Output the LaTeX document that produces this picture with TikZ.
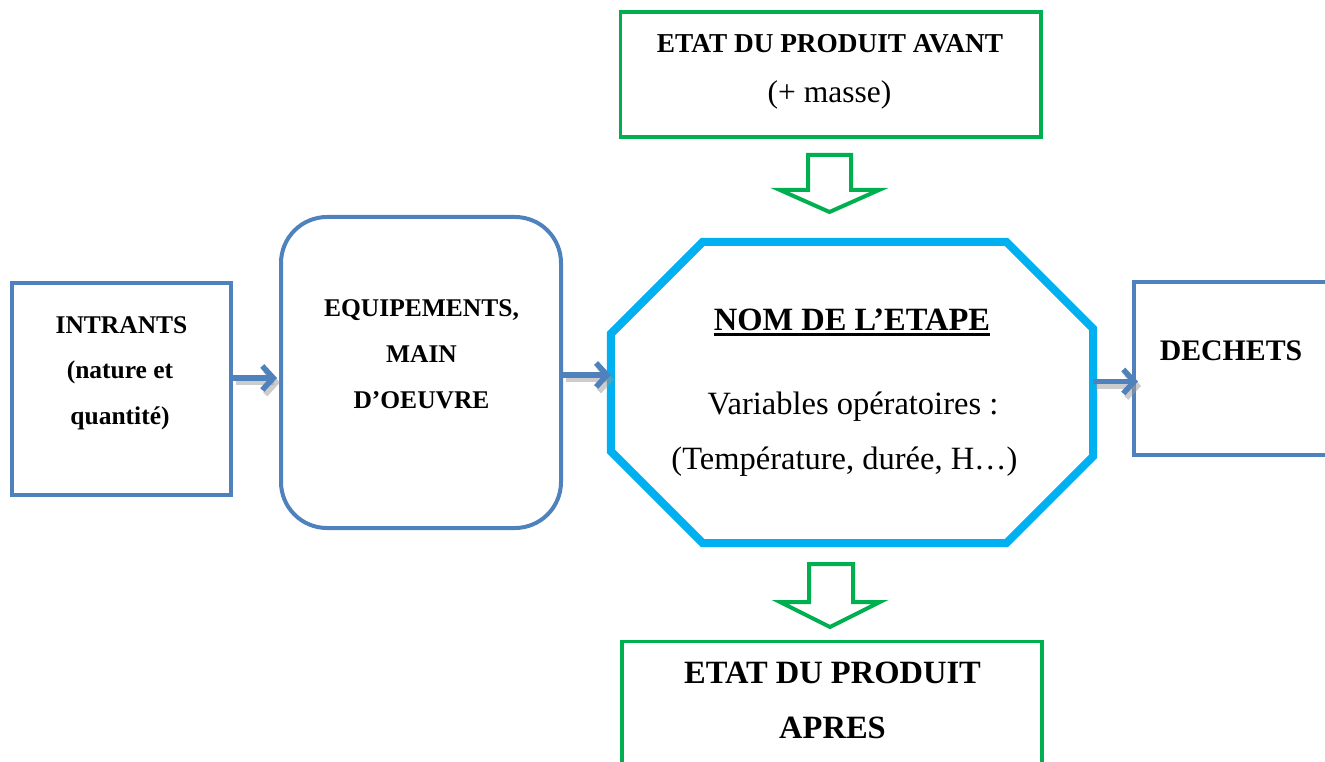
\documentclass[tikz,border=0pt]{standalone}
\usepackage{fontspec}
\setmainfont{Liberation Serif}
\usetikzlibrary{arrows.meta,calc}
\definecolor{boxblue}{HTML}{4F81BD}
\definecolor{stepcyan}{HTML}{00B0F0}
\definecolor{stategreen}{HTML}{00B050}
\tikzset{
  bluebox/.style={draw=boxblue, line width=4pt, inner sep=0pt},
  greenbox/.style={draw=stategreen, line width=3.5pt, inner sep=0pt},
  stepframe/.style={draw=stepcyan, line width=8pt, line join=miter},
  flowhead/.style={-{Straight Barb[length=11pt,width=24pt]}},
  flow/.style={draw=boxblue, line width=5.5pt, flowhead},
  flowshadow/.style={draw=black!40, line width=5.5pt, flowhead, opacity=0.5,
    transform canvas={xshift=3pt,yshift=-4.5pt}},
  hollow/.style={draw=stategreen, line width=4pt, fill=white, line join=miter},
  txt/.style={inner sep=0pt, anchor=base},
  bsmall/.style={txt, font=\bfseries\fontsize{25.5}{30}\selectfont},
  bmid/.style={txt, font=\bfseries\fontsize{27.3}{32}\selectfont},
  blarge/.style={txt, font=\bfseries\fontsize{32.5}{38}\selectfont},
  rlarge/.style={txt, font=\fontsize{32.5}{38}\selectfont}
}
\begin{document}
\begin{tikzpicture}[x=1pt,y=-1pt]
\useasboundingbox (0,0) rectangle (1325,762);
\clip (0,0) rectangle (1325,762);

% boxes
\node[bluebox, minimum width=219pt, minimum height=212pt] (intr) at (121.5,389) {};
\node[bluebox, rounded corners=46pt, minimum width=280pt, minimum height=311pt] (equip) at (421,372.5) {};
\node[bluebox, minimum width=266pt, minimum height=173pt] (dech) at (1267,368.5) {};
\node[greenbox, minimum width=420.5pt, minimum height=125pt] (avant) at (830.75,74.5) {};
\node[greenbox, minimum width=420pt, minimum height=158.5pt] (apres) at (832,720.75) {};

% process step: chamfered frame
\node[inner sep=0pt, minimum width=482pt, minimum height=301pt] (oct) at (852,392.5) {};
\draw[stepframe]
  ($(oct.north west)+(92,0)$) -- ($(oct.north east)+(-87,0)$) --
  ($(oct.north east)+(0,87)$) -- ($(oct.south east)+(0,-87)$) --
  ($(oct.south east)+(-87,0)$) -- ($(oct.south west)+(92,0)$) --
  ($(oct.south west)+(0,-92)$) -- ($(oct.north west)+(0,92)$) -- cycle;

% hollow down arrows
\draw[hollow] (808,155) -- (851,155) -- (851,190) -- (879,190) -- (829.5,212)
  -- (780,190) -- (808,190) -- cycle;
\draw[hollow] (809,564) -- (853,564) -- (853,602) -- (880,602) -- (830,627)
  -- (780,602) -- (809,602) -- cycle;

% connectors
\coordinate (ya) at (0,378);
\coordinate (yb) at (0,375);
\coordinate (yc) at (0,381.5);
\draw[flowshadow] (intr.east |- ya) -- ([xshift=-2pt]equip.west |- ya);
\draw[flow] (intr.east |- ya) -- ([xshift=-2pt]equip.west |- ya);
\draw[flowshadow] (equip.east |- yb) -- (oct.west |- yb);
\draw[flow] (equip.east |- yb) -- (oct.west |- yb);
\draw[flowshadow] (oct.east |- yc) -- ([xshift=6pt]dech.west |- yc);
\draw[flow] (oct.east |- yc) -- ([xshift=6pt]dech.west |- yc);

% texts
\node[bsmall] (t1) at (121.5,333) {INTRANTS};
\node[bsmall] (t2) at (120,378) {(nature et};
\node[bsmall] (t3) at (120,424) {quantité)};

\node[bsmall] (e1) at (421.5,316) {EQUIPEMENTS,};
\node[bsmall] (e2) at (421.5,362.5) {MAIN};
\node[bsmall] (e3) at (421.5,408.5) {D’OEUVRE};

\node[txt, font=\bfseries\fontsize{29.8}{35}\selectfont] (d1) at (1231,360) {DECHETS};

\node[bmid] (a1) at (830,53) {ETAT DU PRODUIT AVANT};
\node[rlarge, font=\fontsize{31.5}{38}\selectfont] (a2) at (829.5,102.5) {(+ masse)};

\node[blarge] (n1) at (852,330) {NOM DE L’ETAPE};
\draw[line width=2.5pt] ([yshift=-4.5pt]n1.base west) -- ([yshift=-4.5pt]n1.base east);
\node[rlarge] (n2) at (853,414) {Variables opératoires :};
\node[rlarge] (n3) at (844.5,469) {(Température, durée, H…)};

\node[blarge] (p1) at (832.5,683) {ETAT DU PRODUIT};
\node[blarge] (p2) at (832.5,738) {APRES};
\end{tikzpicture}
\end{document}
